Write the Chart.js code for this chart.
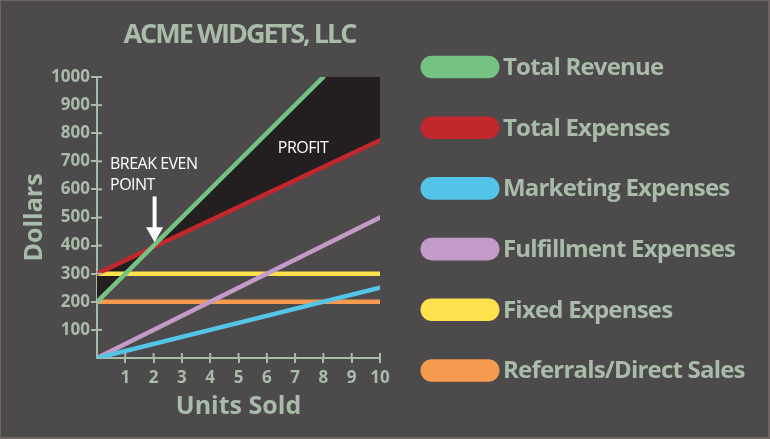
<!DOCTYPE html>
<html>
<head>
<meta charset="utf-8">
<script src="https://cdn.jsdelivr.net/npm/chart.js@4/dist/chart.umd.min.js"></script>
<style>
  html, body { margin: 0; padding: 0; background: #4d4a4b; }
  canvas { display: block; }
</style>
</head>
<body>
<canvas id="c" width="770" height="439"></canvas>
<script>
// ---- data ----
const chartTitle = 'ACME WIDGETS, LLC';
const xAxisTitle = 'Units Sold';
const yAxisTitle = 'Dollars';
const seriesLabels = ['Total Revenue', 'Total Expenses', 'Marketing Expenses', 'Fulfillment Expenses', 'Fixed Expenses', 'Referrals/Direct Sales'];
const seriesColors = ['#74c382', '#c1272d', '#55c4e9', '#c29bc9', '#ffe14e', '#f69a4f'];
// [units, dollars]
const totalRevenue     = [[0, 200], [8, 1000]];
const totalExpenses    = [[0, 300], [10, 775]];
const marketingExp     = [[0, 0], [10, 250]];
const fulfillmentExp   = [[0, 0], [10, 500]];
const fixedExp         = [[0, 300], [10, 300]];
const referralsExp     = [[0, 200], [10, 200]];
const profitUpperEdge  = [[0, 200], [8, 1000], [10, 1000]];
const xTickValues = [1, 2, 3, 4, 5, 6, 7, 8, 9, 10];
const yTickValues = [100, 200, 300, 400, 500, 600, 700, 800, 900, 1000];
const breakEvenPoint = [2, 400];

// ---- styling ----
const BG = '#4d4a4b';
const FRAME = '#716564';
const SAGE = '#a9bca9';
const FONT = "'Open Sans', sans-serif";

const toXY = arr => arr.map(p => ({ x: p[0], y: p[1] }));
const seriesData = [totalRevenue, totalExpenses, marketingExp, fulfillmentExp, fixedExp, referralsExp];

const datasets = seriesData.map((d, i) => ({
  label: seriesLabels[i],
  data: toXY(d),
  borderColor: seriesColors[i],
  backgroundColor: seriesColors[i],
  borderWidth: 4.5,
  borderCapStyle: 'round',
  pointRadius: 0,
  fill: false,
  tension: 0
}));
datasets.push({
  label: 'Profit',
  data: toXY(profitUpperEdge),
  borderColor: 'rgba(0,0,0,0)',
  borderWidth: 0,
  backgroundColor: '#231f20',
  pointRadius: 0,
  fill: { target: 1, above: '#231f20', below: '#231f20' },
  tension: 0
});

const decor = {
  id: 'decor',
  beforeDraw(chart) {
    const ctx = chart.ctx;
    ctx.save();
    ctx.fillStyle = FRAME;
    ctx.fillRect(0, 0, chart.width, chart.height);
    ctx.fillStyle = BG;
    ctx.fillRect(1, 1, chart.width - 3, chart.height - 3);
    ctx.restore();
  },
  afterDraw(chart) {
    const ctx = chart.ctx;
    const xs = chart.scales.x, ys = chart.scales.y;
    const ca = chart.chartArea;
    ctx.save();
    // inner halves of the tick marks
    ctx.strokeStyle = SAGE;
    ctx.lineWidth = 2;
    yTickValues.forEach(v => {
      const py = ys.getPixelForValue(v);
      ctx.beginPath(); ctx.moveTo(ca.left, py); ctx.lineTo(ca.left + 5, py); ctx.stroke();
    });
    xTickValues.forEach(v => {
      const px = xs.getPixelForValue(v);
      ctx.beginPath(); ctx.moveTo(px, ca.bottom); ctx.lineTo(px, ca.bottom - 5); ctx.stroke();
    });

    // title
    ctx.fillStyle = SAGE;
    ctx.font = `bold 27px ${FONT}`;
    ctx.letterSpacing = '-2px';
    ctx.textAlign = 'center';
    ctx.textBaseline = 'alphabetic';
    ctx.fillText(chartTitle, (ca.left + ca.right) / 2 + 1, 43);

    // annotations
    ctx.fillStyle = '#ffffff';
    ctx.font = `16px ${FONT}`;
    ctx.letterSpacing = '-0.5px';
    ctx.textAlign = 'left';
    ctx.fillText('BREAK EVEN', xs.getPixelForValue(0.46), ys.getPixelForValue(671));
    ctx.fillText('POINT', xs.getPixelForValue(0.46), ys.getPixelForValue(597));
    ctx.fillText('PROFIT', xs.getPixelForValue(6.39), ys.getPixelForValue(728));

    // arrow
    const ax = xs.getPixelForValue(breakEvenPoint[0]) + 1;
    const aTop = ys.getPixelForValue(575);
    const aTip = ys.getPixelForValue(breakEvenPoint[1] + 12);
    ctx.strokeStyle = '#ffffff';
    ctx.lineWidth = 4;
    ctx.beginPath(); ctx.moveTo(ax, aTop); ctx.lineTo(ax, aTip - 12); ctx.stroke();
    ctx.fillStyle = '#ffffff';
    ctx.beginPath();
    ctx.moveTo(ax - 8.5, aTip - 15);
    ctx.lineTo(ax + 8.5, aTip - 15);
    ctx.lineTo(ax, aTip);
    ctx.closePath();
    ctx.fill();

    // legend
    ctx.font = `bold 24px ${FONT}`;
    ctx.letterSpacing = '-0.8px';
    ctx.textBaseline = 'middle';
    chart.data.datasets.slice(0, seriesLabels.length).forEach((ds, i) => {
      const cy = 67 + i * 60.7;
      ctx.fillStyle = ds.borderColor;
      ctx.beginPath();
      ctx.roundRect(420.5, cy - 11.3, 79, 22.6, 11.3);
      ctx.fill();
      ctx.fillStyle = SAGE;
      ctx.fillText(ds.label, 503, cy + 1);
    });
    ctx.restore();
  }
};

new Chart(document.getElementById('c'), {
  type: 'line',
  data: { datasets },
  options: {
    responsive: false,
    animation: false,
    devicePixelRatio: 1,
    layout: { padding: { top: 77, left: 0, right: 390, bottom: 0 } },
    plugins: {
      legend: { display: false },
      title: { display: false },
      tooltip: { enabled: false },
      filler: { drawTime: 'beforeDatasetsDraw' }
    },
    scales: {
      x: {
        type: 'linear', min: 0, max: 10,
        afterBuildTicks: s => { s.ticks = xTickValues.map(v => ({ value: v })); },
        afterFit: s => { s.height = 81; },
        ticks: { color: SAGE, font: { family: FONT, weight: 'bold', size: 17 }, padding: 5, maxRotation: 0, autoSkip: false, callback: v => String(v) },
        grid: { drawOnChartArea: false, drawTicks: true, tickLength: 5, color: SAGE, lineWidth: 2 },
        border: { display: true, color: SAGE, width: 2 },
        title: { display: true, text: xAxisTitle, color: SAGE, font: { family: FONT, weight: 'bold', size: 25 }, padding: { top: 0, bottom: 17 } }
      },
      y: {
        type: 'linear', min: 0, max: 1000,
        afterBuildTicks: s => { s.ticks = yTickValues.map(v => ({ value: v })); },
        afterFit: s => { s.width = 97; },
        ticks: { color: SAGE, font: { family: FONT, weight: 'bold', size: 17 }, padding: 1, autoSkip: false, callback: v => String(v) },
        grid: { drawOnChartArea: false, drawTicks: true, tickLength: 6, color: SAGE, lineWidth: 2 },
        border: { display: true, color: SAGE, width: 2 },
        title: { display: true, text: yAxisTitle, color: SAGE, font: { family: FONT, weight: 'bold', size: 25 }, padding: { top: 20, bottom: 0 } }
      }
    }
  },
  plugins: [decor]
});
</script>
</body>
</html>
